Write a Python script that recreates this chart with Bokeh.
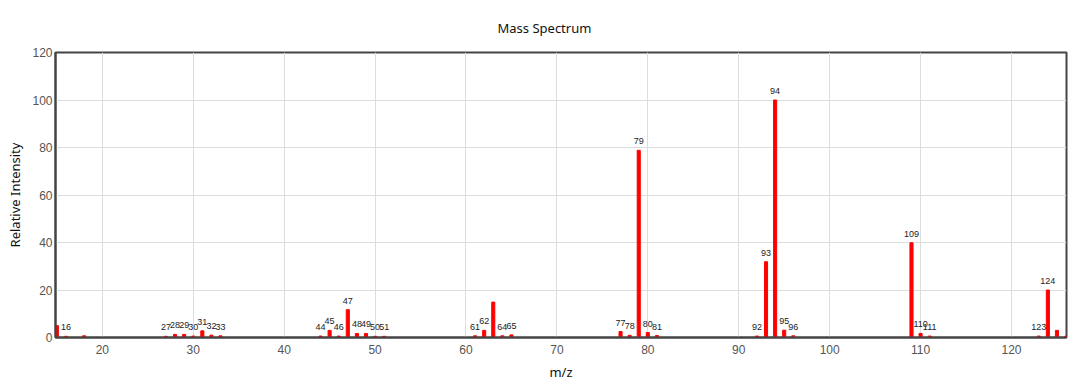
from bokeh.plotting import figure
from bokeh.models import ColumnDataSource, LabelSet, Range1d, Title, FixedTicker
from bokeh.core.properties import value
from bokeh.embed import file_html
from bokeh.resources import INLINE

# m/z values and relative intensities
mz = [15, 16, 18, 27, 28, 29, 30, 31, 32, 33,
      44, 45, 46, 47, 48, 49, 50, 51,
      61, 62, 63, 64, 65,
      77, 78, 79, 80, 81,
      92, 93, 94, 95, 96,
      109, 110, 111,
      123, 124, 125, 126]
intensity = [5.0, 0.5, 0.7, 0.5, 1.3, 1.3, 0.6, 2.8, 1.0, 0.7,
             0.6, 3.0, 0.6, 11.7, 1.7, 1.7, 0.5, 0.5,
             0.7, 3.0, 14.9, 0.7, 1.1,
             2.5, 0.9, 78.8, 2.1, 0.8,
             0.6, 31.9, 100.0, 3.1, 0.7,
             39.9, 1.7, 0.6,
             0.6, 20.0, 3.0, 0.5]
labelled = [16, 27, 28, 29, 30, 31, 32, 33, 44, 45, 46, 47, 48, 49, 50, 51,
            61, 62, 64, 65, 77, 78, 79, 80, 81, 92, 93, 94, 95, 96,
            109, 110, 111, 123, 124]
x_ticks = [20, 30, 40, 50, 60, 70, 80, 90, 100, 110, 120]
y_ticks = [0, 20, 40, 60, 80, 100, 120]

src = ColumnDataSource(dict(mz=mz, inten=intensity))
lab_int = [intensity[mz.index(m)] for m in labelled]
lab_src = ColumnDataSource(dict(mz=labelled, inten=lab_int, txt=[str(m) for m in labelled]))

p = figure(width=1083, height=385, output_backend="svg", toolbar_location=None,
           x_range=Range1d(14.85, 126.05), y_range=Range1d(0, 120),
           min_border_left=55, min_border_right=17, min_border_top=49, min_border_bottom=48)

p.vbar(x="mz", top="inten", width=0.34, bottom=0, source=src, color="red")

labels = LabelSet(x="mz", y="inten", text="txt", source=lab_src, text_align="center",
                  text_baseline="bottom", y_offset=6, text_font_size=value("9px"),
                  text_color="#222222", text_font=value("Liberation Sans"))
p.add_layout(labels)

p.add_layout(Title(text="Mass Spectrum", align="left", offset=442, text_font_size="13px",
                   text_font="Noto Sans", text_font_style="normal", text_color="#111111",
                   standoff=32), "above")

p.outline_line_color = "#444444"
p.outline_line_width = 2
p.outline_line_alpha = 1

for ax in (p.xaxis, p.yaxis):
    ax.major_tick_line_color = None
    ax.minor_tick_line_color = None
    ax.major_tick_out = 0
    ax.major_tick_in = 0
    ax.minor_tick_out = 0
    ax.minor_tick_in = 0
    ax.axis_line_color = "#444444"
    ax.axis_line_width = 2
    ax.major_label_text_color = "#555555"
    ax.major_label_text_font = "Liberation Sans"
    ax.major_label_text_font_size = "12px"
    ax.axis_label_text_font = "Noto Sans"
    ax.axis_label_text_font_size = "13px"
    ax.axis_label_text_font_style = "normal"
    ax.axis_label_text_color = "#111111"

p.xaxis.ticker = FixedTicker(ticks=x_ticks)
p.yaxis.ticker = FixedTicker(ticks=y_ticks)
p.xaxis.axis_label = "m/z"
p.yaxis.axis_label = "Relative Intensity"
p.xaxis.major_label_standoff = 7
p.yaxis.major_label_standoff = 3
p.xaxis.axis_label_standoff = 6
p.yaxis.axis_label_standoff = 5

p.grid.grid_line_color = "#dddddd"
p.grid.grid_line_width = 1

open("out.html", "w").write(file_html(p, INLINE))
